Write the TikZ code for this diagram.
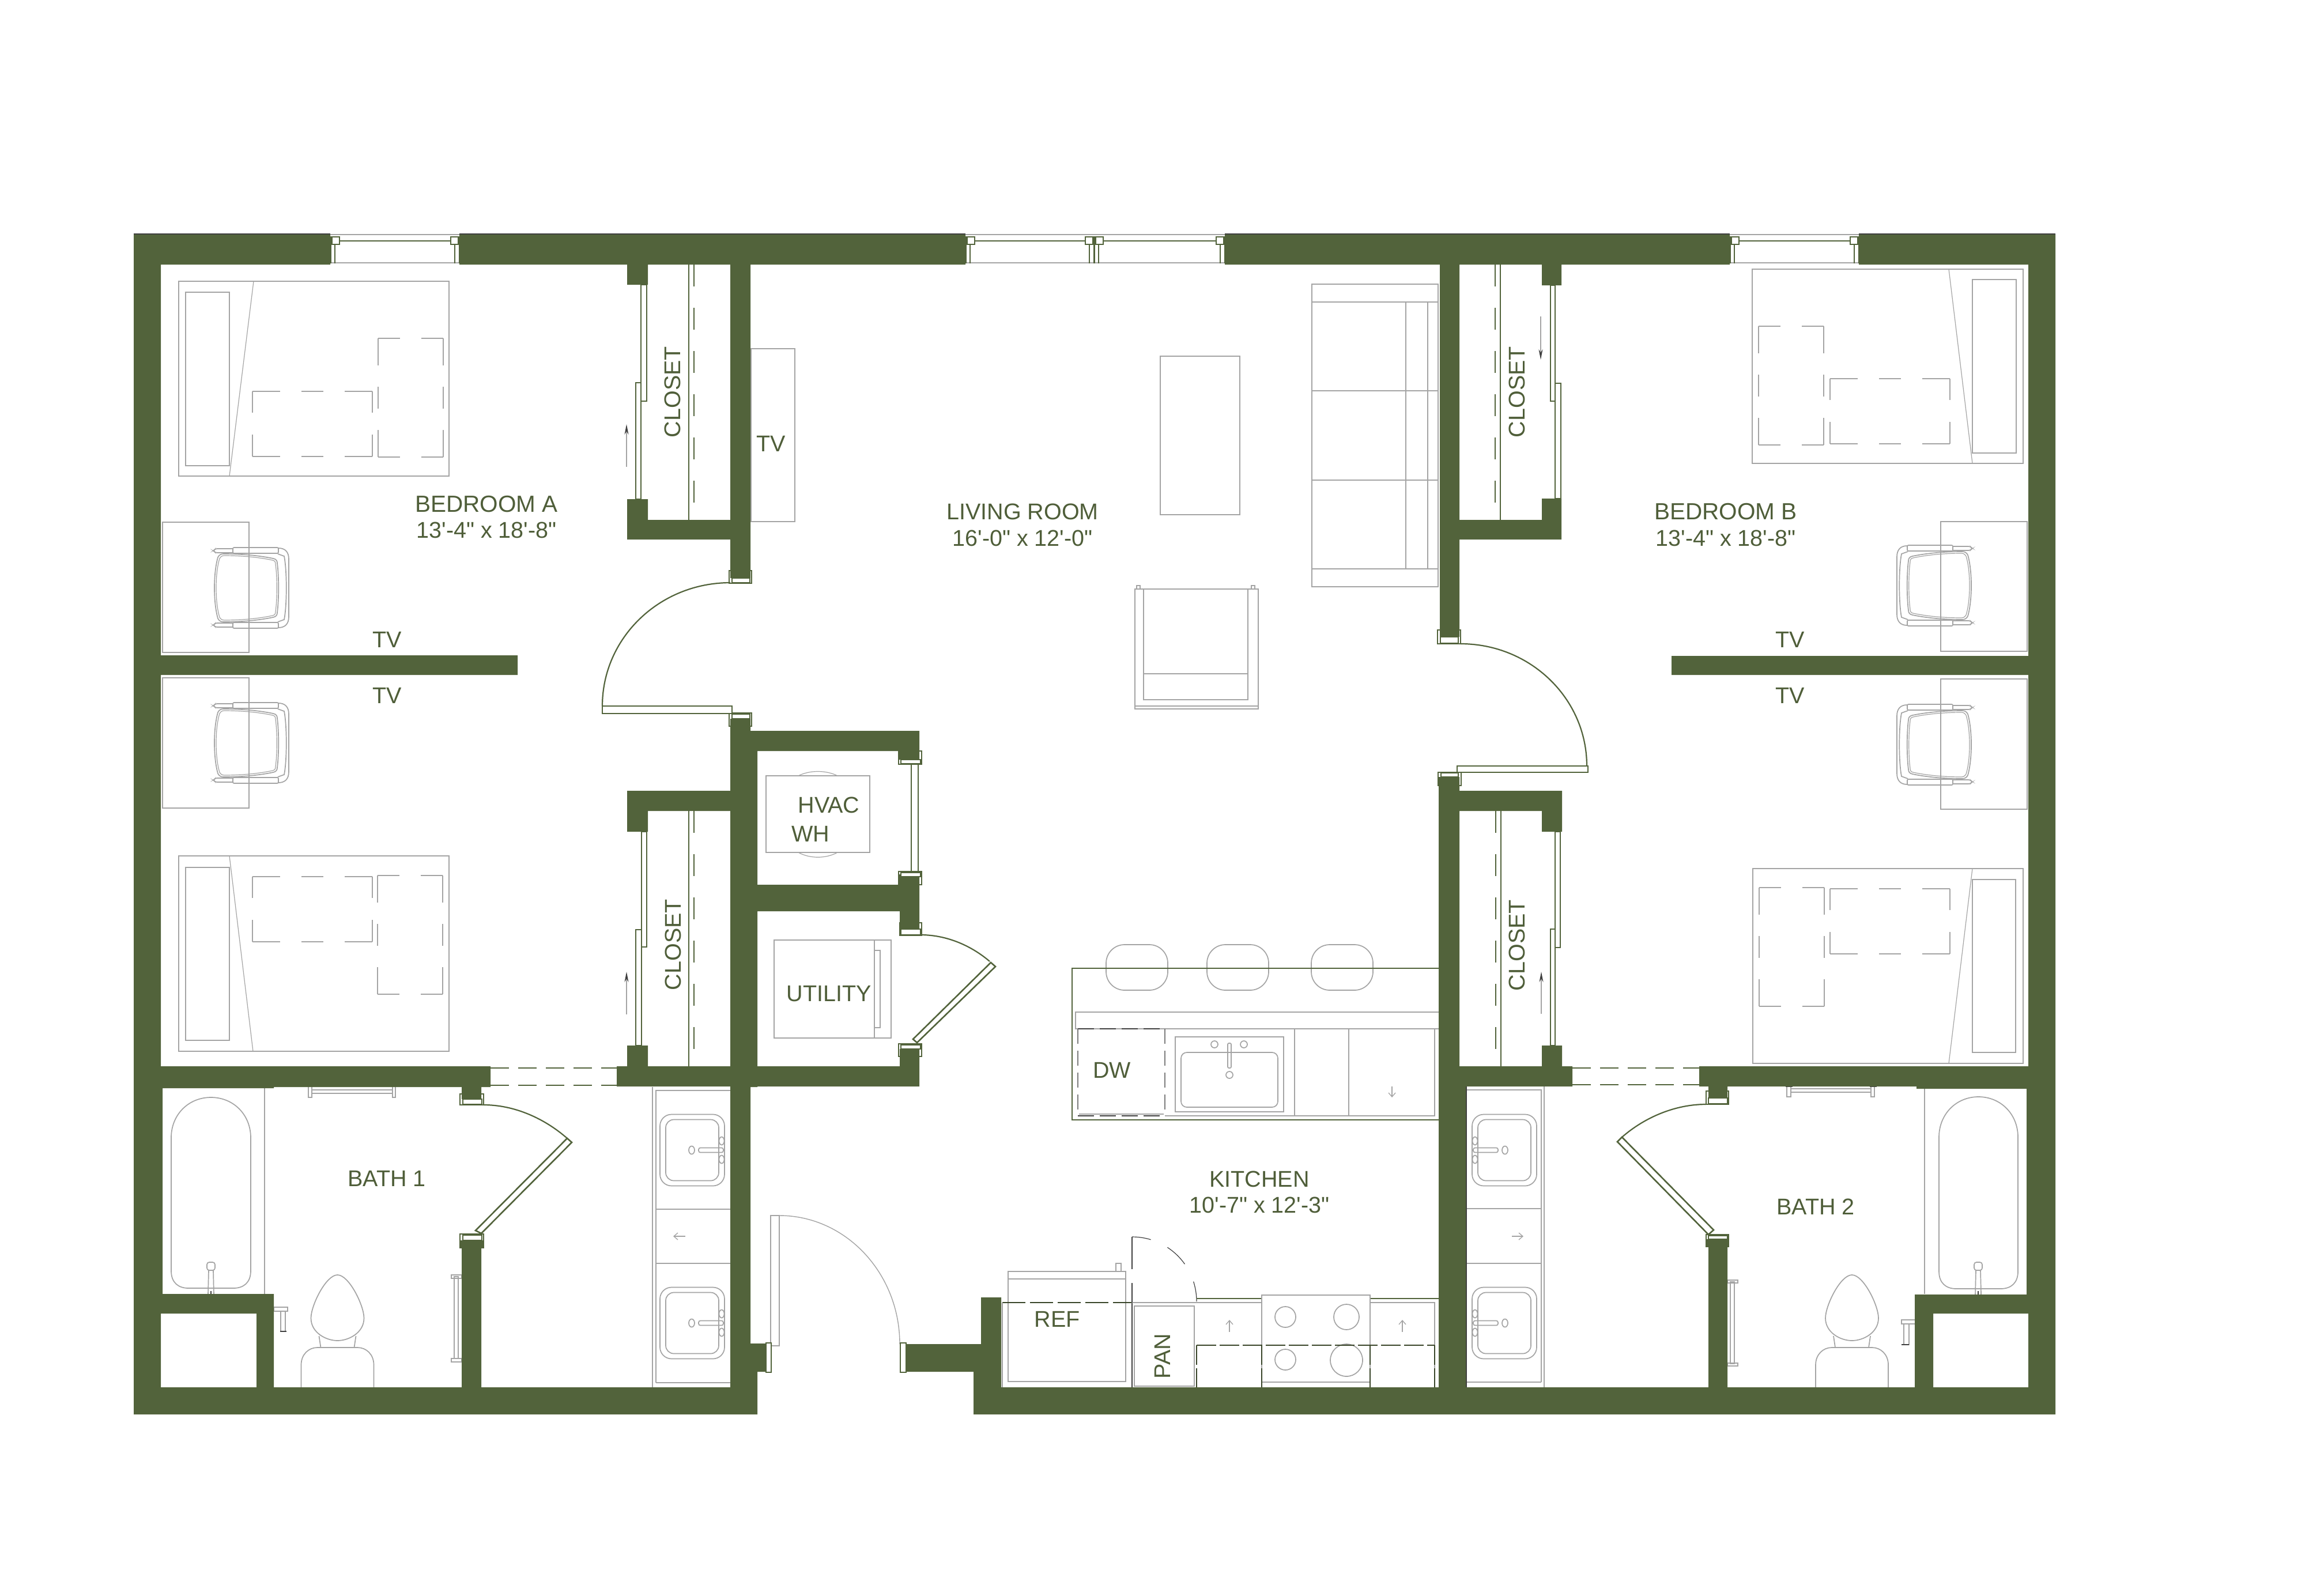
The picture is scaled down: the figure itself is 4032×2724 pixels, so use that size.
\documentclass[tikz,border=0pt]{standalone}
\usepackage{fontspec}
\usetikzlibrary{arrows.meta}
\newfontfamily\lblfont{Liberation Sans}
\definecolor{wallgreen}{HTML}{52633B}
\definecolor{textgreen}{HTML}{4F5E39}
\definecolor{furn}{HTML}{A4A4A4}
\definecolor{darkline}{HTML}{3F3F3F}
\tikzset{
  wall/.style={fill=wallgreen},
  doorline/.style={draw=wallgreen,line width=2.6pt},
  thingreen/.style={draw=wallgreen,line width=1.8pt},
  furnline/.style={draw=furn,line width=1.7pt},
  roomlabel/.style={text=textgreen,inner sep=0pt,font=\lblfont\fontsize{39.5}{44}\selectfont},
  bedlabel/.style={text=textgreen,inner sep=0pt,font=\lblfont\fontsize{40.5}{46}\selectfont},
  dimlabel/.style={text=textgreen,inner sep=0pt,font=\lblfont\fontsize{39.5}{44}\selectfont},
  kdash/.style={draw=wallgreen!70!black,line width=2.4pt,dash pattern=on 34pt off 6pt},
}
% one window bay
\newcommand\winbay[2]{%
  \draw[furnline] (#1,407) -- (#2,407);
  \draw[furnline] (#1,456) -- (#2,456);
  \draw[doorline] (#1,418) -- (#2,418);
  \draw[thingreen,line width=2pt] ({#1+1},410) -- ({#1+1},457);
  \draw[thingreen,line width=2pt] ({#1+8},424) -- ({#1+8},457);
  \draw[thingreen,line width=2pt] ({#2-8},424) -- ({#2-8},457);
  \draw[thingreen,line width=2pt] (#2,410) -- (#2,457);
  \draw[doorline,fill=white] ({#1+3},411) rectangle ({#1+16},424);
  \draw[doorline,fill=white] ({#2-15},411) rectangle ({#2-2},424);
}
% door jamb: outer frame, white inner block
\newcommand\jambframe[8]{%
  \draw[doorline] (#1,#2) rectangle (#3,#4);
  \draw[doorline,fill=white] (#5,#6) rectangle (#7,#8);
}
\newcommand\chairunit[3]{%
  \begin{scope}[shift={(#1,#2)},xscale=#3]
    \draw[furnline] (58,-59) .. controls (90,-59) and (120,-56) .. (144,-51) .. controls (149,-50) and (151,-47) .. (151,-43) .. controls (154,-20) and (154,20) .. (151,43) .. controls (151,47) and (149,50) .. (144,51) .. controls (120,56) and (90,59) .. (58,59) .. controls (53,59) and (50,57) .. (48,53) .. controls (40,25) and (40,-25) .. (48,-53) .. controls (50,-57) and (53,-59) .. (58,-59) -- cycle;
    \draw[furnline,line width=1.2pt] (59,-56) .. controls (90,-56) and (120,-53) .. (143,-48) .. controls (147,-47) and (148,-45) .. (148,-41) .. controls (151,-20) and (151,20) .. (148,41) .. controls (148,45) and (147,47) .. (143,48) .. controls (120,53) and (90,56) .. (59,56) .. controls (55,56) and (53,54) .. (51,51) .. controls (43,25) and (43,-25) .. (51,-51) .. controls (53,-54) and (55,-56) .. (59,-56) -- cycle;
    \draw[furnline,rounded corners=2pt] (74,-70) rectangle (153,-60);
    \draw[furnline,rounded corners=2pt] (74,60) rectangle (153,70);
    \draw[furnline,rounded corners=3pt] (74,-68) -- (44,-68) -- (40,-64.5) -- (44,-61) -- (74,-61);
    \draw[furnline,rounded corners=3pt] (74,68) -- (44,68) -- (40,64.5) -- (44,61) -- (74,61);
    \draw[furnline] (153,-69) .. controls (165,-69) and (171,-62) .. (171,-50) -- (171,50) .. controls (171,62) and (165,69) .. (153,69);
    \draw[furnline] (152,-59) -- (163,-55) .. controls (168,-30) and (168,30) .. (163,55) -- (152,59);
  \end{scope}
}
\newcommand\sinkunit[3]{%
  \begin{scope}[shift={(#1,#2)},xscale=#3]
    \draw[furnline,rounded corners=20pt] (-56,-62) rectangle (56,62);
    \draw[furnline,rounded corners=14pt] (-46,-53) rectangle (46,53);
    \draw[furnline,rounded corners=3pt] (11,-4) rectangle (54,4);
    \draw[furnline] (-1,0) ellipse [x radius=5,y radius=7];
    \draw[furnline] (51,-16) ellipse [x radius=4.5,y radius=7];
    \draw[furnline] (51,16) ellipse [x radius=4.5,y radius=7];
  \end{scope}
}
\newcommand\tubfaucet[2]{%
  \begin{scope}[shift={(#1,#2)}]
    \draw[furnline,rounded corners=4pt] (-7,0) rectangle (7,14);
    \draw[furnline] (-4,14) -- (-5,56);
    \draw[furnline] (4,14) -- (5,56);
    \draw[draw=darkline,line width=2pt] (-24,57) -- (24,57);
    \draw[draw=darkline,line width=1.5pt] (0,50) -- (0,63);
  \end{scope}
}
\newcommand\toiletunit[1]{%
  \begin{scope}[shift={(#1,0)}]
    \draw[furnline] (0,2212) .. controls (-20,2212) and (-46,2265) .. (-46,2287) .. controls (-46,2312) and (-20,2326) .. (0,2326) .. controls (20,2326) and (46,2312) .. (46,2287) .. controls (46,2265) and (20,2212) .. (0,2212) -- cycle;
    \draw[furnline] (-32,2318) -- (-29,2338);
    \draw[furnline] (32,2318) -- (29,2338);
    \draw[furnline] (-63,2408) -- (-63,2368) .. controls (-63,2350) and (-50,2338) .. (-35,2338) -- (35,2338) .. controls (50,2338) and (63,2350) .. (63,2368) -- (63,2408);
    \draw[draw=darkline,line width=2.2pt] (-63,2408) -- (63,2408);
  \end{scope}
}
\newcommand\tubshape[4]{%
  \draw[furnline] (#1,{#3+70}) .. controls (#1,{#3+30}) and ({#1+30},#3) .. ({(#1+#2)/2},#3) .. controls ({#2-30},#3) and (#2,{#3+30}) .. (#2,{#3+70}) -- (#2,{#4-30}) .. controls (#2,{#4-10}) and ({#2-12},#4) .. ({#2-30},#4) -- ({#1+30},#4) .. controls ({#1+12},#4) and (#1,{#4-10}) .. (#1,{#4-30}) -- cycle;
}
\newcommand\wideblanket[2]{%
  \draw[furnline,dash pattern=on 48pt off 37pt on 38pt off 37pt on 48pt off 300pt] (#1,#2) -- ({#1+208},#2);
  \draw[furnline,dash pattern=on 48pt off 37pt on 38pt off 37pt on 48pt off 300pt] (#1,{#2+113}) -- ({#1+208},{#2+113});
  \draw[furnline,dash pattern=on 37pt off 38pt on 38pt off 200pt] (#1,#2) -- (#1,{#2+113});
  \draw[furnline,dash pattern=on 37pt off 38pt on 38pt off 200pt] ({#1+208},#2) -- ({#1+208},{#2+113});
}
\newcommand\tallblanket[2]{%
  \draw[furnline,dash pattern=on 38pt off 37pt on 38pt off 200pt] (#1,#2) -- ({#1+113},#2);
  \draw[furnline,dash pattern=on 38pt off 37pt on 38pt off 200pt] (#1,{#2+206}) -- ({#1+113},{#2+206});
  \draw[furnline,dash pattern=on 47pt off 37pt on 38pt off 37pt on 47pt off 300pt] (#1,#2) -- (#1,{#2+206});
  \draw[furnline,dash pattern=on 47pt off 37pt on 38pt off 37pt on 47pt off 300pt] ({#1+113},#2) -- ({#1+113},{#2+206});
}
\begin{document}
\begin{tikzpicture}[x=1pt,y=-1pt]
\useasboundingbox (0,0) rectangle (4032,2724);
\fill[white] (0,0) rectangle (4032,2724);

% ---------- furniture: bedrooms
\draw[furnline] (310,488) rectangle (779,826);
\draw[furnline] (322,507) rectangle (398,808);
\draw[furnline,line width=1.2pt] (440,488) -- (398,826);
\wideblanket{438}{679}\tallblanket{656}{587}
\draw[furnline] (310,1485) rectangle (779,1824);
\draw[furnline] (322,1505) rectangle (398,1805);
\draw[furnline,line width=1.2pt] (398,1485) -- (439,1824);
\wideblanket{438}{1521}\tallblanket{655}{1519}
\draw[furnline] (3040,467) rectangle (3510,804);
\draw[furnline] (3422,485) rectangle (3498,786);
\draw[furnline,line width=1.2pt] (3381,467) -- (3422,804);
\tallblanket{3051}{566}\wideblanket{3175}{657}
\draw[furnline] (3041,1507) rectangle (3510,1845);
\draw[furnline] (3422,1526) rectangle (3497,1826);
\draw[furnline,line width=1.2pt] (3422,1507) -- (3381,1845);
\tallblanket{3052}{1540}\wideblanket{3175}{1542}
% desks and chairs
\draw[furnline] (282,906) rectangle (432,1132);
\draw[furnline] (282,1176) rectangle (432,1402);
\draw[furnline] (3367,905) rectangle (3517,1130);
\draw[furnline] (3367,1178) rectangle (3517,1404);
\chairunit{330}{1020}{1}
\chairunit{330}{1289}{1}
\chairunit{3462}{1016}{-1}
\chairunit{3462}{1292}{-1}
% ---------- living room
\draw[furnline] (1303,605) rectangle (1379,905);
\draw[furnline] (2013,618) rectangle (2151,893);
\draw[furnline] (2276,493) rectangle (2495,1018);
\draw[furnline] (2276,524) -- (2495,524);
\draw[furnline] (2276,678) -- (2495,678);
\draw[furnline] (2276,833) -- (2495,833);
\draw[furnline] (2276,987) -- (2495,987);
\draw[furnline] (2439,524) -- (2439,987);
\draw[furnline] (2477,524) -- (2477,987);
\draw[furnline] (1969,1022) rectangle (2183,1230);
\draw[furnline] (1984,1022) rectangle (2165,1214);
\draw[furnline] (1984,1169) -- (2165,1169);
\draw[furnline] (1969,1225) -- (2183,1225);
\draw[furnline,line width=1.2pt] (1972,1016) rectangle (1978,1022);
\draw[furnline,line width=1.2pt] (2171,1016) rectangle (2177,1022);
% ---------- HVAC and utility
\draw[furnline] (1329,1346) rectangle (1509,1479);
\draw[furnline,line width=1.2pt] (1385,1346) .. controls (1405,1336) and (1433,1336) .. (1453,1346);
\draw[furnline,line width=1.2pt] (1385,1479) .. controls (1405,1490) and (1433,1490) .. (1453,1479);
\draw[furnline] (1343,1631) rectangle (1546,1801);
\draw[furnline] (1517,1631) -- (1517,1801);
\draw[furnline] (1517,1649) rectangle (1527,1783);
% ---------- bath fixtures, left
\tubshape{297}{435}{1904}{2235}
\draw[furnline,line width=1.3pt] (459,1888) -- (459,2245);
\tubfaucet{366}{2190}
\toiletunit{585.5}
\draw[furnline] (541,1891) rectangle (681,1897);
\draw[furnline] (535,1885) rectangle (541,1904);
\draw[furnline] (681,1885) rectangle (686,1904);
\draw[draw=darkline,line width=2pt] (531,1885) -- (544,1885);
\draw[draw=darkline,line width=2pt] (677,1885) -- (690,1885);
\draw[furnline] (788,2215) rectangle (795,2357);
\draw[furnline] (783,2212) rectangle (801,2218);
\draw[furnline] (783,2357) rectangle (801,2363);
\draw[furnline] (475,2268) rectangle (499,2275);
\draw[furnline] (487,2275) rectangle (495,2310);
\draw[draw=darkline,line width=2pt] (474,2262) -- (474,2282);
\draw[draw=darkline,line width=2pt] (486,2310) -- (497,2310);
% vanity left
\draw[furnline,line width=1.3pt] (1132,1886) -- (1132,2407);
\draw[furnline] (1138,2399) -- (1138,1892) -- (1267,1892);
\draw[furnline] (1138,2399) -- (1267,2399);
\draw[furnline,line width=1.3pt] (1138,2098) -- (1267,2098);
\draw[furnline,line width=1.3pt] (1138,2192) -- (1267,2192);
\sinkunit{1201}{1995.5}{1}
\sinkunit{1201}{2295.5}{1}
\draw[furnline,line width=1.3pt,-{Straight Barb[length=7pt,width=12pt]}] (1189,2145) -- (1168,2145);
\draw[draw=darkline,line width=1.2pt] (1268,1883) -- (1268,2410);
% ---------- bath fixtures, right
\tubshape{3364}{3501}{1903}{2236}
\draw[furnline,line width=1.3pt] (3339,1889) -- (3339,2245);
\tubfaucet{3432}{2190}
\toiletunit{3213}
\draw[furnline] (3107,1889) rectangle (3246,1895);
\draw[furnline] (3100,1884) rectangle (3107,1903);
\draw[furnline] (3246,1884) rectangle (3252,1903);
\draw[draw=darkline,line width=2pt] (3098,1885) -- (3110,1885);
\draw[draw=darkline,line width=2pt] (3244,1885) -- (3256,1885);
\draw[furnline] (3002,2224) rectangle (3009,2366);
\draw[furnline] (2997,2221) rectangle (3015,2226);
\draw[furnline] (2997,2365) rectangle (3015,2370);
\draw[furnline] (3299,2290) rectangle (3323,2297);
\draw[furnline] (3303,2297) rectangle (3312,2333);
\draw[draw=darkline,line width=2pt] (3325,2287) -- (3325,2306);
\draw[draw=darkline,line width=2pt] (3299,2333) -- (3312,2333);
\draw[furnline,line width=1.3pt] (2679,1885) -- (2679,2407);
\draw[furnline] (2674,2398) -- (2674,1891) -- (2545,1891);
\draw[furnline] (2674,2398) -- (2545,2398);
\draw[furnline,line width=1.3pt] (2545,2097) -- (2674,2097);
\draw[furnline,line width=1.3pt] (2545,2192) -- (2674,2192);
\sinkunit{2610}{1995.5}{-1}
\sinkunit{2610}{2295.5}{-1}
\draw[furnline,line width=1.3pt,-{Straight Barb[length=7pt,width=12pt]}] (2623,2145) -- (2643,2145);
\draw[draw=darkline,line width=1.2pt] (2544,1885) -- (2544,2407);
% ---------- kitchen island
\draw[furnline,rounded corners=32pt] (1919,1639) rectangle (2026,1718);
\draw[furnline,rounded corners=32pt] (2094,1639) rectangle (2201,1718);
\draw[furnline,rounded corners=32pt] (2275,1639) rectangle (2382,1718);
\draw[thingreen] (2497,1680) -- (1860,1680) -- (1860,1943) -- (2497,1943);
\draw[furnline] (2497,1756) -- (1866,1756) -- (1866,1785) -- (2497,1785);
\draw[furnline] (2489,1785) -- (2489,1936) -- (2021,1936);
\draw[furnline] (2039,1799) rectangle (2227,1929);
\draw[furnline,rounded corners=10pt] (2049,1826) rectangle (2217,1921);
\draw[furnline,rounded corners=2pt] (2130,1810) rectangle (2136,1853);
\draw[furnline] (2107,1812) ellipse [x radius=6,y radius=6];
\draw[furnline] (2158,1812) ellipse [x radius=6,y radius=6];
\draw[furnline] (2133,1865) ellipse [x radius=6,y radius=6];
\draw[furnline] (2246,1785) -- (2246,1936);
\draw[furnline] (2340,1785) -- (2340,1936);
\draw[furnline,line width=1.3pt,-{Straight Barb[length=7pt,width=12pt]}] (2415,1885) -- (2415,1904);
% dishwasher
\draw[draw=darkline,line width=1.6pt,dash pattern=on 28pt off 10pt] (1870,1785) -- (2021,1785);
\draw[draw=darkline,line width=1.6pt,dash pattern=on 28pt off 10pt] (1870,1936) -- (2021,1936);
\draw[draw=furn!60!darkline,line width=1.3pt,dash pattern=on 26pt off 12pt] (1870,1785) -- (1870,1936);
\draw[draw=furn!60!darkline,line width=1.3pt,dash pattern=on 26pt off 12pt] (2021,1785) -- (2021,1936);
\draw[furnline] (1872,1933) -- (2019,1933);
% ---------- kitchen lower run
\draw[furnline] (1749,2206) rectangle (1953,2219);
\draw[furnline] (1749,2219) rectangle (1953,2397);
\draw[furnline] (1936,2192) rectangle (1945,2206);
\draw[kdash,dash pattern=on 40pt off 8pt] (1739,2260) -- (1963,2260);
\draw[furnline] (1739,2260) -- (1739,2407);
\draw[draw=darkline,line width=1.8pt] (1964,2260) -- (1964,2409) -- (2076,2409);
\draw[furnline] (1963,2260) -- (2076,2260);
\draw[furnline] (1968,2266) rectangle (2072,2405);
\draw[draw=darkline,line width=1.4pt,dash pattern=on 56pt off 24pt on 200pt off 10pt] (1964,2146) -- (1964,2260);
\draw[draw=darkline,line width=1.2pt,dash pattern=on 33pt off 32pt on 42pt off 34pt on 40pt off 50pt] (1964,2146) .. controls (2026,2146) and (2076,2196) .. (2076,2258);
\draw[thingreen] (2076,2253) -- (2497,2253);
\draw[furnline] (2076,2260) -- (2489,2260) -- (2489,2407);
\draw[furnline,fill=white] (2189,2247) rectangle (2377,2398);
\draw[furnline] (2230,2285) circle [radius=18];
\draw[furnline] (2336,2285) ellipse [x radius=22,y radius=22];
\draw[furnline] (2230,2359) circle [radius=18];
\draw[furnline] (2336,2360) circle [radius=28];
\draw[kdash] (2076,2334) -- (2489,2334);
\draw[kdash] (2076,2334) -- (2076,2407);
\draw[kdash] (2189,2334) -- (2189,2407);
\draw[kdash] (2377,2334) -- (2377,2407);
\draw[kdash] (2489,2334) -- (2489,2407);
\draw[furnline,line width=1.3pt,-{Straight Barb[length=7pt,width=12pt]}] (2133,2311) -- (2133,2290);
\draw[furnline,line width=1.3pt,-{Straight Barb[length=7pt,width=12pt]}] (2433,2311) -- (2433,2290);
% entry door (grey)
\draw[furnline] (1337,2109) rectangle (1352,2335);
\draw[furnline,line width=1.4pt] (1352,2109) .. controls (1467,2109) and (1561,2209) .. (1561,2332);

% ---------- walls
\fill[wall]
 (232,406) rectangle (573,459)
 (797,406) rectangle (1675,459)
 (2125,406) rectangle (3001,459)
 (3225,406) rectangle (3566,459)
 (232,406) rectangle (279,2454)
 (232,2407) rectangle (1314,2454)
 (1689,2407) rectangle (3566,2454)
 (3519,406) rectangle (3566,2454)
 (279,1137) rectangle (898,1171)
 (2900,1138) rectangle (3519,1171)
 % bedroom A closet
 (1088,459) rectangle (1124,494)
 (1088,866) rectangle (1124,936)
 (1088,902) rectangle (1302,936)
 (1267,459) rectangle (1302,1003)
 % core
 (1267,1247) rectangle (1302,1268)
 (1267,1268) rectangle (1314,1886)
 (1267,1886) rectangle (1302,2407)
 (1267,1268) rectangle (1595,1303)
 (1558,1303) rectangle (1595,1318)
 (1314,1535) rectangle (1595,1581)
 (1558,1517) rectangle (1595,1535)
 (1561,1581) rectangle (1595,1612)
 (1070,1850) rectangle (1595,1885)
 (1561,1820) rectangle (1595,1850)
 % lower left closet
 (1088,1372) rectangle (1267,1407)
 (1088,1407) rectangle (1124,1443)
 (1088,1814) rectangle (1124,1850)
 % bath 1
 (279,1850) rectangle (851,1886)
 (279,1886) rectangle (475,1888)
 (279,1888) rectangle (282,2245)
 (279,2245) rectangle (475,2279)
 (445,2279) rectangle (475,2407)
 (801,1886) rectangle (835,1907)
 (798,2152) rectangle (839,2165)
 (801,2165) rectangle (835,2407)
 % entry
 (1302,2331) rectangle (1329,2380)
 (1302,2380) rectangle (1314,2407)
 (1572,2332) rectangle (1702,2380)
 (1702,2251) rectangle (1737,2407)
 (1689,2380) rectangle (1737,2407)
 % right core
 (2498,459) rectangle (2532,1105)
 (2675,459) rectangle (2709,495)
 (2675,865) rectangle (2709,936)
 (2532,902) rectangle (2709,936)
 (2496,1348) rectangle (2532,1885)
 (2496,1885) rectangle (2543,2407)
 (2532,1372) rectangle (2710,1407)
 (2675,1407) rectangle (2710,1443)
 (2675,1814) rectangle (2710,1850)
 (2496,1850) rectangle (2728,1885)
 % bath 2
 (2948,1850) rectangle (3519,1885)
 (3325,1885) rectangle (3519,1889)
 (3516,1889) rectangle (3519,2246)
 (3322,2246) rectangle (3519,2279)
 (3322,2279) rectangle (3354,2407)
 (2964,1885) rectangle (2997,1905)
 (2960,2150) rectangle (2999,2163)
 (2964,2163) rectangle (2997,2407);
\draw[draw=darkline,line width=1.4pt] (232,406) -- (573,406) (797,406) -- (1675,406) (2125,406) -- (3001,406) (3225,406) -- (3566,406);

% ---------- windows
\winbay{573}{797}
\winbay{1675}{1898}
\winbay{1898}{2125}
\winbay{3001}{3225}

% ---------- door jambs and leaves
\jambframe{1265}{990}{1304}{1012}{1270}{1003}{1301}{1011}
\jambframe{1265}{1237}{1304}{1260}{1270}{1239}{1301}{1247}
\jambframe{1559}{1303}{1599}{1326}{1563}{1318}{1597}{1325}
\jambframe{1559}{1512}{1599}{1535}{1563}{1514}{1597}{1521}
\jambframe{1561}{1601}{1599}{1623}{1563}{1612}{1597}{1622}
\jambframe{1559}{1811}{1599}{1833}{1563}{1813}{1597}{1820}
\jambframe{2494}{1093}{2534}{1117}{2499}{1105}{2530}{1116}
\jambframe{2495}{1340}{2535}{1363}{2500}{1341}{2530}{1348}
\jambframe{798}{1898}{839}{1917}{803}{1907}{836}{1916}
\jambframe{798}{2141}{839}{2165}{803}{2143}{836}{2152}
\jambframe{2960}{1893}{2999}{1916}{2964}{1905}{2997}{1915}
\jambframe{2960}{2142}{2999}{2163}{2964}{2144}{2997}{2150}
\draw[doorline,fill=white] (1329,2330) rectangle (1338,2381);
\draw[doorline,fill=white] (1562,2330) rectangle (1572,2381);
% swing doors
\draw[doorline,fill=white] (1045,1225) rectangle (1270,1238);
\draw[thingreen,line width=2.2pt] (1267,1011) .. controls (1144,1011) and (1045,1107) .. (1045,1225);
\draw[doorline,fill=white] (2528,1329) rectangle (2755,1340);
\draw[thingreen,line width=2.2pt] (2534,1117) .. controls (2655,1117) and (2753,1212) .. (2753,1329);
\draw[doorline,fill=white] (1584,1803) -- (1591,1809) -- (1727,1677) -- (1719,1670) -- cycle;
\draw[thingreen,line width=2.2pt] (1597,1622) .. controls (1641,1622) and (1683.5,1639.5) .. (1717,1668);
\draw[doorline,fill=white] (825,2135) -- (835,2140) -- (992,1982) -- (984,1975) -- cycle;
\draw[thingreen,line width=2.2pt] (839,1917) .. controls (892,1917) and (944,1940) .. (984,1975);
\draw[doorline,fill=white] (2973,2134) -- (2964,2142) -- (2806,1981) -- (2814,1973) -- cycle;
\draw[thingreen,line width=2.2pt] (2960,1916) .. controls (2907,1916) and (2854,1938) .. (2814,1973);
% HVAC closet leaf
\draw[doorline,fill=white] (1581,1326) rectangle (1593,1512);
% sliding closet doors
\draw[doorline] (1112,494) rectangle (1122,696);
\draw[doorline] (1103,664) rectangle (1112,866);
\draw[doorline] (1113,1443) rectangle (1122,1643);
\draw[doorline] (1103,1613) rectangle (1113,1814);
\draw[doorline] (2690,495) rectangle (2698,696);
\draw[doorline] (2698,665) rectangle (2708,865);
\draw[doorline] (2698,1443) rectangle (2707,1644);
\draw[doorline] (2690,1612) rectangle (2698,1814);
% closet rods
\draw[thingreen] (1195,459) -- (1195,902);
\draw[thingreen,dash pattern=on 38pt off 37pt] (1204,459) -- (1204,902);
\draw[thingreen] (1195,1407) -- (1195,1850);
\draw[thingreen,dash pattern=on 38pt off 37pt] (1204,1407) -- (1204,1850);
\draw[thingreen] (2603,459) -- (2603,902);
\draw[thingreen,dash pattern=on 38pt off 37pt] (2594,459) -- (2594,902);
\draw[thingreen] (2604,1407) -- (2604,1850);
\draw[thingreen,dash pattern=on 38pt off 37pt] (2595,1407) -- (2595,1850);
% closet arrows
\draw[furnline,line width=1.4pt,-{Stealth[length=18pt,width=7pt,color=darkline]}] (1087,810) -- (1087,736);
\draw[furnline,line width=1.4pt,-{Stealth[length=18pt,width=7pt,color=darkline]}] (1087,1760) -- (1087,1686);
\draw[furnline,line width=1.4pt,-{Stealth[length=18pt,width=7pt,color=darkline]}] (2673,549) -- (2673,624);
\draw[furnline,line width=1.4pt,-{Stealth[length=18pt,width=7pt,color=darkline]}] (2674,1759) -- (2674,1686);
% bath openings
\draw[doorline,dash pattern=on 32pt off 16pt] (851,1853) -- (1071,1853);
\draw[doorline,dash pattern=on 32pt off 16pt] (851,1883) -- (1071,1883);
\draw[doorline,dash pattern=on 32pt off 16pt] (2728,1853) -- (2948,1853);
\draw[doorline,dash pattern=on 32pt off 16pt] (2728,1882) -- (2948,1882);

% ---------- labels
\node[bedlabel] (bedA) at (844,875) {BEDROOM A};
\node[dimlabel] (bedAdim) at (844,920) {13'-4" x 18'-8"};
\node[bedlabel] (bedB) at (2994,888) {BEDROOM B};
\node[dimlabel] (bedBdim) at (2994,934) {13'-4" x 18'-8"};
\node[roomlabel] (living) at (1774,888) {LIVING ROOM};
\node[dimlabel] (livingdim) at (1774,934) {16'-0" x 12'-0"};
\node[roomlabel] (kitchen) at (2185,2046) {KITCHEN};
\node[dimlabel] (kitchendim) at (2185,2091) {10'-7" x 12'-3"};
\node[roomlabel] (bath1) at (671,2045) {BATH 1};
\node[roomlabel] (bath2) at (3150,2094) {BATH 2};
\node[roomlabel] (tvA1) at (672,1110) {TV};
\node[roomlabel] (tvA2) at (672,1207) {TV};
\node[roomlabel] (tvB1) at (3106,1110) {TV};
\node[roomlabel] (tvB2) at (3106,1207) {TV};
\node[roomlabel] (tvL) at (1338,770) {TV};
\node[roomlabel,rotate=90] (closetA1) at (1167,680) {CLOSET};
\node[roomlabel,rotate=90] (closetA2) at (1168,1639) {CLOSET};
\node[roomlabel,rotate=90] (closetB1) at (2632,680) {CLOSET};
\node[roomlabel,rotate=90] (closetB2) at (2632,1640) {CLOSET};
\node[roomlabel] (hvac) at (1438,1397) {HVAC};
\node[roomlabel] (wh) at (1406,1447) {WH};
\node[roomlabel] (utility) at (1438,1724) {UTILITY};
\node[roomlabel] (dw) at (1929,1857) {DW};
\node[roomlabel] (ref) at (1834,2289) {REF};
\node[roomlabel,rotate=90] (pan) at (2017,2353) {PAN};
\end{tikzpicture}
\end{document}
